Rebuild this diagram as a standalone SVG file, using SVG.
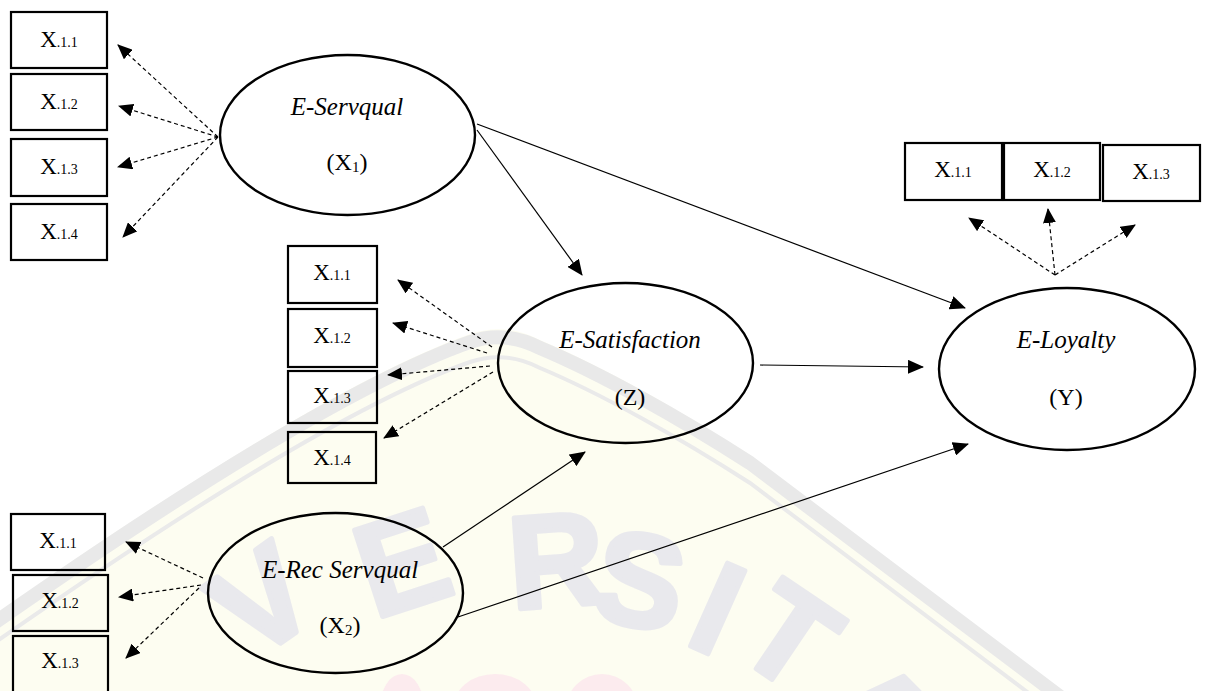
<svg xmlns="http://www.w3.org/2000/svg" width="1205" height="691" viewBox="0 0 1205 691">
  <style>
    .box { fill: none; stroke: #000; stroke-width: 2.2; }
    .lv { fill: none; stroke: #000; stroke-width: 2.4; }
    .ind { font-family: "Liberation Serif", "Times New Roman", serif; font-size: 23px; text-anchor: middle; fill: #000; }
    .sub { font-size: 14px; }
    .name { font-family: "Liberation Serif", "Times New Roman", serif; font-size: 25px; font-style: italic; text-anchor: middle; fill: #000; }
    .code { font-family: "Liberation Serif", "Times New Roman", serif; font-size: 24px; text-anchor: middle; fill: #000; }
    .path { stroke: #000; stroke-width: 1.2; fill: none; marker-end: url(#head); }
    .load { stroke: #000; stroke-width: 1.2; fill: none; stroke-dasharray: 4 3; marker-end: url(#headS); }
    .wm { font-family: "Liberation Sans", Arial, sans-serif; font-weight: bold; font-size: 132px; fill: #e9e9ed; stroke: #e9e9ed; stroke-width: 5; stroke-linejoin: round; text-anchor: middle; }
  </style>
  <defs>
    <marker id="head" viewBox="0 0 16 14" markerWidth="16" markerHeight="14" refX="15" refY="7" orient="auto" markerUnits="userSpaceOnUse">
      <path d="M0,0 L16,7 L0,14 z" fill="#000"/>
    </marker>
    <marker id="headS" viewBox="0 0 15 13" markerWidth="15" markerHeight="13" refX="14" refY="6.5" orient="auto" markerUnits="userSpaceOnUse">
      <path d="M0,0 L15,6.5 L0,13 z" fill="#000"/>
    </marker>
    <path id="arch" d="M -10,618 C 130,520 340,380 470,334 Q 505,322 540,340 C 600,365 680,410 750,455 L 1075,700"/>
  </defs>

  <rect width="1205" height="691" fill="#fff"/>

  <!-- faint background emblem -->
  <g id="emblem">
    <path d="M -10,618 C 130,520 340,380 470,334 Q 505,322 540,340 C 600,365 680,410 750,455 L 1075,700 L -10,700 Z" fill="#fdfdf1"/>
    <use href="#arch" transform="translate(0,8)" fill="none" stroke="#e9e9e9" stroke-width="14"/>
    <use href="#arch" transform="translate(0,28)" fill="none" stroke="#eaeaea" stroke-width="4"/>
    <text class="wm" transform="translate(262,600) rotate(-35)" x="0" y="46">V</text>
    <text class="wm" transform="translate(402,562) rotate(-18)" x="0" y="46">E</text>
    <text class="wm" transform="translate(556,560) rotate(-4)" x="0" y="46">R</text>
    <text class="wm" transform="translate(640,580) rotate(10)" x="0" y="46">S</text>
    <text class="wm" transform="translate(718,608) rotate(24)" x="0" y="46">I</text>
    <text class="wm" transform="translate(790,636) rotate(34)" x="0" y="46">T</text>
    <text class="wm" transform="translate(880,716) rotate(45)" x="0" y="46">A</text>
    <ellipse cx="402" cy="708" rx="22" ry="34" fill="#fcebee"/>
    <ellipse cx="495" cy="708" rx="42" ry="34" fill="#fcebee"/>
    <ellipse cx="602" cy="710" rx="36" ry="36" fill="#fcebee"/>
  </g>

  <!-- connectors -->
  <g id="connectors">
    <line class="path" x1="477" y1="130" x2="582" y2="275"/>
    <line class="path" x1="477" y1="124" x2="965" y2="308"/>
    <line class="path" x1="760" y1="365" x2="923" y2="367"/>
    <line class="path" x1="443" y1="547" x2="585" y2="452"/>
    <line class="path" x1="458" y1="617" x2="968" y2="444"/>

    <line class="load" x1="218" y1="137" x2="118" y2="45"/>
    <line class="load" x1="218" y1="137" x2="119" y2="106"/>
    <line class="load" x1="218" y1="137" x2="118" y2="167"/>
    <line class="load" x1="218" y1="137" x2="123" y2="237"/>

    <line class="load" x1="492" y1="347" x2="398" y2="280"/>
    <line class="load" x1="487" y1="353" x2="393" y2="323"/>
    <line class="load" x1="490" y1="366" x2="388" y2="375"/>
    <line class="load" x1="493" y1="372" x2="384" y2="438"/>

    <line class="load" x1="1055" y1="275" x2="969" y2="218"/>
    <line class="load" x1="1055" y1="275" x2="1048" y2="209"/>
    <line class="load" x1="1055" y1="275" x2="1135" y2="225"/>

    <line class="load" x1="203" y1="578" x2="126" y2="542"/>
    <line class="load" x1="201" y1="585" x2="119" y2="597"/>
    <line class="load" x1="199" y1="588" x2="126" y2="658"/>
  </g>

  <!-- latent constructs -->
  <g id="e-servqual">
    <ellipse class="lv" cx="347.5" cy="135" rx="127.5" ry="80"/>
    <text class="name" x="347" y="115">E-Servqual</text>
    <text class="code" x="347" y="170">(X<tspan font-size="15" dy="2">1</tspan><tspan dy="-2">)</tspan></text>
  </g>
  <g id="e-satisfaction">
    <ellipse class="lv" cx="625.5" cy="363" rx="127.5" ry="80"/>
    <text class="name" x="630" y="348">E-Satisfaction</text>
    <text class="code" x="630" y="405">(Z)</text>
  </g>
  <g id="e-loyalty">
    <ellipse class="lv" cx="1067" cy="369" rx="128" ry="81"/>
    <text class="name" x="1066" y="348">E-Loyalty</text>
    <text class="code" x="1066" y="405">(Y)</text>
  </g>
  <g id="e-rec-servqual">
    <ellipse class="lv" cx="335.5" cy="593" rx="127.5" ry="80"/>
    <text class="name" x="340" y="578">E-Rec Servqual</text>
    <text class="code" x="340" y="633">(X<tspan font-size="15" dy="2">2</tspan><tspan dy="-2">)</tspan></text>
  </g>

  <!-- indicators of E-Servqual -->
  <g id="x1-ind1"><rect class="box" x="11" y="12" width="96" height="56"/><text class="ind" x="59" y="47">X<tspan class="sub">.1.1</tspan></text></g>
  <g id="x1-ind2"><rect class="box" x="11" y="74" width="96" height="56"/><text class="ind" x="59" y="109">X<tspan class="sub">.1.2</tspan></text></g>
  <g id="x1-ind3"><rect class="box" x="11" y="139" width="96" height="57"/><text class="ind" x="59" y="174">X<tspan class="sub">.1.3</tspan></text></g>
  <g id="x1-ind4"><rect class="box" x="11" y="204" width="96" height="56"/><text class="ind" x="59" y="239">X<tspan class="sub">.1.4</tspan></text></g>

  <!-- indicators of E-Satisfaction -->
  <g id="z-ind1"><rect class="box" x="288" y="246" width="89" height="57"/><text class="ind" x="332" y="280">X<tspan class="sub">.1.1</tspan></text></g>
  <g id="z-ind2"><rect class="box" x="288" y="309" width="89" height="58"/><text class="ind" x="332" y="343">X<tspan class="sub">.1.2</tspan></text></g>
  <g id="z-ind3"><rect class="box" x="288" y="371" width="89" height="52"/><text class="ind" x="332" y="403">X<tspan class="sub">.1.3</tspan></text></g>
  <g id="z-ind4"><rect class="box" x="288" y="432" width="88" height="51"/><text class="ind" x="332" y="465">X<tspan class="sub">.1.4</tspan></text></g>

  <!-- indicators of E-Loyalty -->
  <g id="y-ind1"><rect class="box" x="905" y="143" width="97" height="57"/><text class="ind" x="953" y="177">X<tspan class="sub">.1.1</tspan></text></g>
  <g id="y-ind2"><rect class="box" x="1004" y="143" width="96" height="57"/><text class="ind" x="1052" y="177">X<tspan class="sub">.1.2</tspan></text></g>
  <g id="y-ind3"><rect class="box" x="1103" y="145" width="97" height="56"/><text class="ind" x="1151" y="179">X<tspan class="sub">.1.3</tspan></text></g>

  <!-- indicators of E-Rec Servqual -->
  <g id="x2-ind1"><rect class="box" x="11" y="514" width="94" height="56"/><text class="ind" x="58" y="548">X<tspan class="sub">.1.1</tspan></text></g>
  <g id="x2-ind2"><rect class="box" x="13" y="575" width="95" height="56"/><text class="ind" x="60" y="608">X<tspan class="sub">.1.2</tspan></text></g>
  <g id="x2-ind3"><rect class="box" x="13" y="636" width="95" height="62"/><text class="ind" x="60" y="668">X<tspan class="sub">.1.3</tspan></text></g>
</svg>
